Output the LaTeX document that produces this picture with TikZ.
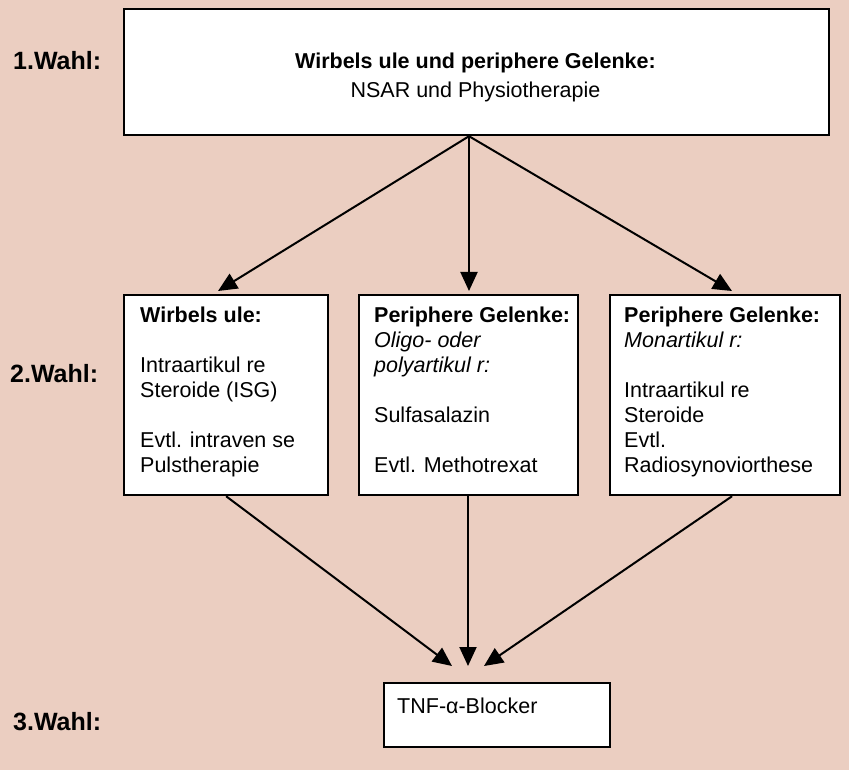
\documentclass[tikz,border=0pt]{standalone}
\usepackage{fontspec}
\setmainfont{Liberation Sans}
\usetikzlibrary{arrows.meta}
\definecolor{bgpink}{RGB}{235,206,193}
\begin{document}
\begin{tikzpicture}[x=1pt,y=-1pt,
  box/.style={draw=black, line width=2.2pt, fill=white, inner sep=0pt, anchor=north west},
  arr/.style={line width=2pt, -{Triangle[length=19pt,width=17pt]}},
  txt/.style={font=\fontsize{21.5}{25}\selectfont, inner sep=0pt, align=left},
  lab/.style={font=\fontsize{25}{30}\selectfont\bfseries, inner sep=0pt, anchor=west}]
\useasboundingbox (0,0) rectangle (849,770);
\fill[bgpink] (0,0) rectangle (849,770);

% boxes
\node[box, minimum width=705pt, minimum height=126pt] (top) at (123,8) {};
\node[box, minimum width=204pt, minimum height=200pt] (L) at (123,294) {};
\node[box, minimum width=219pt, minimum height=200pt] (M) at (358,294) {};
\node[box, minimum width=230pt, minimum height=200pt] (R) at (609,294) {};
\node[box, minimum width=226pt, minimum height=64pt] (B) at (383,682) {};

% texts
\node[txt, align=center, font=\fontsize{21.5}{29}\selectfont] (toptext) at (475.5,77)
  {\textbf{Wirbels ule und periphere Gelenke:}\\ NSAR und Physiotherapie};
\node[txt, anchor=north west] (Ltext) at (140,307)
  {\textbf{Wirbels ule:}\\[25pt] Intraartikul re\\ Steroide (ISG)\\[25pt] Evtl. intraven se\\ Pulstherapie};
\node[txt, anchor=north west] (Mtext) at (374,307)
  {\textbf{Periphere Gelenke:}\\ \textit{Oligo- oder}\\ \textit{polyartikul r:}\\[25pt] Sulfasalazin\\[25pt] Evtl. Methotrexat};
\node[txt, anchor=north west] (Rtext) at (624,307)
  {\textbf{Periphere Gelenke:}\\ \textit{Monartikul r:}\\[25pt] Intraartikul re\\ Steroide\\ Evtl.\\ Radiosynoviorthese};
\node[txt, anchor=base west] (Btext) at (397,713) {TNF-α-Blocker};

% labels
\node[lab] (w1) at (13,61) {1.Wahl:};
\node[lab] (w2) at (10,374) {2.Wahl:};
\node[lab] (w3) at (13,722) {3.Wahl:};

% arrow end points
\coordinate (tL) at (218,291);
\coordinate (tM) at (469,291);
\coordinate (tR) at (732,291);
\coordinate (bL) at (452,666);
\coordinate (bM) at (468,666);
\coordinate (bR) at (484,666);

\draw[arr] (tM |- top.south) -- (tL);
\draw[arr] (tM |- top.south) -- (tM);
\draw[arr] (tM |- top.south) -- (tR);
\draw[arr] (L.south) -- (bL);
\draw[arr] (bM |- M.south) -- (bM);
\draw[arr] ([xshift=7pt]R.south) -- (bR);
\end{tikzpicture}
\end{document}
